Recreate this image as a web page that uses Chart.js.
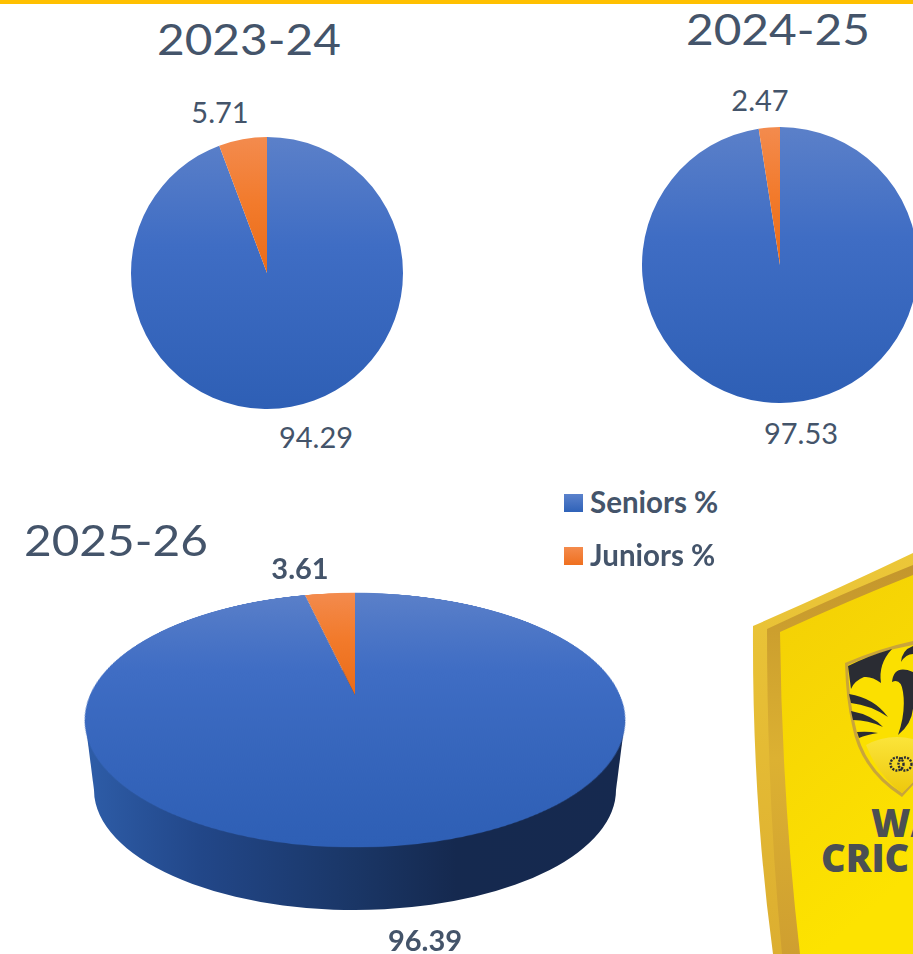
<!DOCTYPE html>
<html>
<head>
<meta charset="utf-8">
<title>Seniors and Juniors</title>
<script src="https://cdn.jsdelivr.net/npm/chart.js@4"></script>
<style>
  html, body { margin: 0; padding: 0; background: #fff; }
  body { position: relative; width: 913px; height: 954px; overflow: hidden; font-family: Lato, sans-serif; color: #44546a; }
  .topBar { position: absolute; left: 0; top: 0; width: 913px; height: 4px; background: #ffc000; }
  canvas { position: absolute; }
  .title { position: absolute; font-size: 43px; line-height: 50px; white-space: nowrap; transform-origin: 0 50%; transform: scaleX(1.11); }
  .value { position: absolute; font-size: 29px; line-height: 34px; white-space: nowrap; transform: translateX(-50%); }
  .value.strong { font-weight: 700; }
  .legendItem { position: absolute; left: 564px; font-size: 29.5px; font-weight: 700; line-height: 32px; white-space: nowrap; padding-left: 26px; }
  .legendItem i { position: absolute; left: 0; top: 8px; width: 19px; height: 18px; }
  #logo { position: absolute; left: 730px; top: 540px; }
</style>
</head>
<body>
<div class="topBar"></div>

<svg id="logo" width="183" height="414" viewBox="730 540 183 414">
  <defs>
    <linearGradient id="face" x1="0" y1="0" x2="0.3" y2="1">
      <stop offset="0" stop-color="#f3cf06"/>
      <stop offset="1" stop-color="#fde300"/>
    </linearGradient>
    <linearGradient id="rimOuter" x1="0" y1="0" x2="0" y2="1">
      <stop offset="0" stop-color="#ecc738"/>
      <stop offset="1" stop-color="#dcae30"/>
    </linearGradient>
    <linearGradient id="rimInner" x1="0" y1="0" x2="0" y2="1">
      <stop offset="0" stop-color="#c4962c"/>
      <stop offset="0.5" stop-color="#dcb132"/>
      <stop offset="1" stop-color="#cf9f30"/>
    </linearGradient>
    <linearGradient id="panel" x1="0" y1="0" x2="0" y2="1">
      <stop offset="0" stop-color="#fbe43a"/>
      <stop offset="1" stop-color="#eec80c"/>
    </linearGradient>
  </defs>
  <path d="M753 626 Q840 588 913 553 V954 H773 Q752 800 753 626 Z" fill="url(#rimOuter)"/>
  <path d="M767 629 Q845 592 913 565 V954 H782 Q767 800 767 629 Z" fill="url(#rimInner)"/>
  <path d="M780 632 Q850 600 913 575 V954 H800 Q782 800 780 632 Z" fill="url(#face)"/>
  <path d="M845 663 Q880 648 913 641 V785 L902 797 Q860 770 852 725 Q846 700 845 663 Z" fill="#c9a53a"/>
  <path d="M848 665 Q880 651 913 645 V782 L902 793 Q863 768 855 724 Q849 700 848 665 Z" fill="#fbe000"/>
  <path d="M848 666 Q868 656 892 649 Q878 664 881 683 Q872 676 864 677 Q854 681 851 689 Z" fill="#2a2c33"/>
  <path d="M913 646 Q902 650 901 662 Q906 654 913 654 Z" fill="#2a2c33"/>
  <path d="M913 672 Q894 664 892 682 Q901 678 903 692 Q906 712 898 735 Q915 722 913 700 Z" fill="#2a2c33"/>
  <path d="M849 694 Q874 698 888 717 Q870 705 851 703 Z" fill="#2a2c33"/>
  <path d="M851 711 Q872 715 883 727 Q868 720 853 720 Z" fill="#2a2c33"/>
  <path d="M857 732 Q868 731 878 733 Q866 735 859 738 Z" fill="#2a2c33"/>
  <path d="M866 745 Q888 733 913 739 V782 L902 793 Q878 776 866 745 Z" fill="url(#panel)"/>
  <circle cx="897" cy="764" r="6.5" fill="none" stroke="#2a2c33" stroke-width="2.4" stroke-dasharray="2 1.2"/>
  <circle cx="905" cy="764" r="6.5" fill="none" stroke="#2a2c33" stroke-width="2.4" stroke-dasharray="2 1.2"/>
  <text x="871" y="837" font-family="Open Sans" font-weight="800" font-size="38" fill="#4b4f53">WA</text>
  <text x="821" y="872" font-family="Open Sans" font-weight="800" font-size="38" fill="#4b4f53">CRIC</text>
</svg>

<canvas id="pie2324" width="272" height="272" style="left:131px;top:137px"></canvas>
<canvas id="pie2425" width="276" height="276" style="left:642px;top:127px"></canvas>
<canvas id="pie2526Side" width="560" height="522" style="left:75px;top:529px"></canvas>
<canvas id="pie2526" width="530" height="530" style="left:90px;top:430px;transform-origin:265px 265px;transform:perspective(1193px) rotateX(62.5deg)"></canvas>

<script>
var years = ["2023-24", "2024-25", "2025-26"];
var categories = ["Seniors %", "Juniors %"];
var seniors = [94.29, 97.53, 96.39];
var juniors = [5.71, 2.47, 3.61];

// where the html text goes, by year
var titlePos = [[157, 14], [686, 4], [24, 515]];
var juniorLabelPos = [[220, 95], [760, 83], [300, 551]];
var seniorLabelPos = [[316, 420], [801, 416], [425, 923]];
var legendTop = [486, 539];

function addText(cls, text, pos) {
  var el = document.createElement("div");
  el.className = cls;
  el.textContent = text;
  el.style.left = pos[0] + "px";
  el.style.top = pos[1] + "px";
  document.body.appendChild(el);
}

years.forEach(function (year, i) {
  var cls = i == 2 ? "value strong" : "value";
  addText("title", year, titlePos[i]);
  addText(cls, juniors[i].toFixed(2), juniorLabelPos[i]);
  addText(cls, seniors[i].toFixed(2), seniorLabelPos[i]);
});

var legendSwatches = [
  "linear-gradient(#5b82cc, #2f62b8)",
  "linear-gradient(#f48b4c, #ef701f)"
];
categories.forEach(function (name, i) {
  var item = document.createElement("div");
  item.className = "legendItem";
  item.style.top = legendTop[i] + "px";
  item.innerHTML = `<i style="background:${legendSwatches[i]}"></i>${name}`;
  document.body.appendChild(item);
});

// same vertical shading as the slides, seniors over the whole pie, juniors down to the centre
function sliceColour(context) {
  var chart = context.chart;
  var area = chart.chartArea;
  if (!area) return "#3d6cc3";
  if (context.dataIndex == 0) {
    var blue = chart.ctx.createLinearGradient(0, area.top, 0, area.bottom);
    blue.addColorStop(0, "#5b80c9");
    blue.addColorStop(0.4, "#3f6dc4");
    blue.addColorStop(1, "#2e5fb5");
    return blue;
  }
  var orange = chart.ctx.createLinearGradient(0, area.top, 0, (area.top + area.bottom) / 2);
  orange.addColorStop(0, "#f38b4e");
  orange.addColorStop(0.5, "#f27a2b");
  orange.addColorStop(1, "#ea6c18");
  return orange;
}

function sideColour(context) {
  var chart = context.chart;
  var side = chart.ctx.createLinearGradient(0, 0, chart.width, 0);
  side.addColorStop(0, "#2f5fab");
  side.addColorStop(0.22, "#224789");
  side.addColorStop(0.5, "#1a3666");
  side.addColorStop(0.68, "#15294f");
  side.addColorStop(1, "#16294f");
  return side;
}

function pieOptions() {
  return {
    responsive: false,
    animation: false,
    layout: { padding: 0 },
    plugins: { legend: { display: false }, tooltip: { enabled: false } }
  };
}

function makePie(id, i, colour, extraPlugins) {
  return new Chart(document.getElementById(id), {
    type: "pie",
    data: {
      labels: categories,
      datasets: [{
        data: [seniors[i], juniors[i]],
        backgroundColor: colour,
        borderWidth: 0
      }]
    },
    options: pieOptions(),
    plugins: extraPlugins || []
  });
}

// rim of the 3d pie: squashed copy of the pie plus the band up to the top face
var squash = 0.46;
var rimRise = 70;
var rimFlare = 9;
var rimPlugin = {
  id: "rim",
  beforeDatasetsDraw: function (chart) {
    var arc = chart.getDatasetMeta(0).data[0];
    var ctx = chart.ctx;
    ctx.save();
    ctx.fillStyle = sideColour({ chart: chart });
    ctx.beginPath();
    ctx.moveTo(arc.x - arc.outerRadius, arc.y);
    ctx.lineTo(arc.x - arc.outerRadius - rimFlare, arc.y - rimRise);
    ctx.lineTo(arc.x + arc.outerRadius + rimFlare, arc.y - rimRise);
    ctx.lineTo(arc.x + arc.outerRadius, arc.y);
    ctx.closePath();
    ctx.fill();
    ctx.translate(arc.x, arc.y);
    ctx.scale(1, squash);
    ctx.translate(-arc.x, -arc.y);
  },
  afterDatasetsDraw: function (chart) {
    chart.ctx.restore();
  }
};

makePie("pie2324", 0, sliceColour);
makePie("pie2425", 1, sliceColour);
makePie("pie2526Side", 2, sideColour, [rimPlugin]);
makePie("pie2526", 2, sliceColour);
</script>
</body>
</html>
